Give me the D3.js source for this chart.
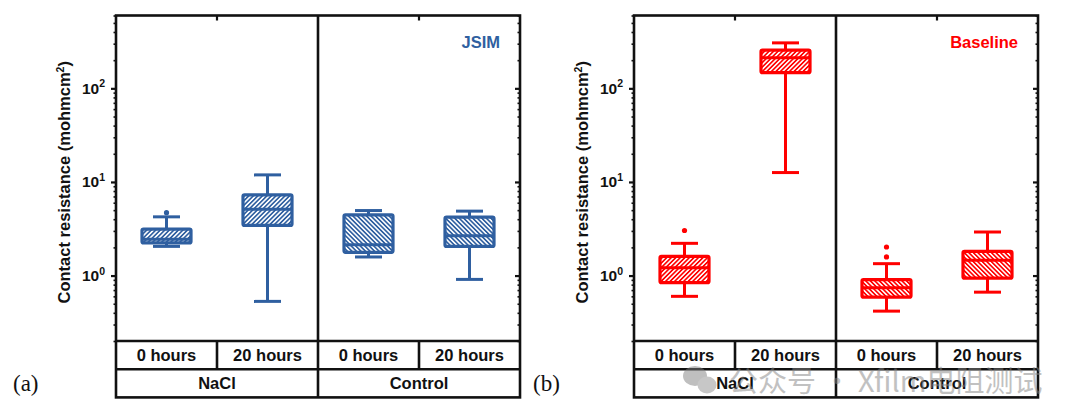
<!DOCTYPE html>
<html>
<head>
<meta charset="utf-8">
<script src="https://cdn.jsdelivr.net/npm/d3@7"></script>
<style>
  html, body { margin: 0; padding: 0; background: #fff; }
  svg { display: block; font-family: "Liberation Sans", Arial, sans-serif; }
</style>
</head>
<body>
<svg id="chart" width="1080" height="420"></svg>
<script>
// categories
const groups = ["NaCl", "Control"];
const times = ["0 hours", "20 hours"];
// box order: NaCl 0h, NaCl 20h, Control 0h, Control 20h
const yTicks = [1, 10, 100];

// (a) JSIM
const jsimMin = [2.05, 0.53, 1.58, 0.91];
const jsimQ1 = [2.23, 3.43, 1.77, 2.05];
const jsimMed = [2.45, 5.12, 2.14, 2.66];
const jsimQ3 = [3.14, 7.27, 4.46, 4.21];
const jsimMax = [4.24, 11.9, 4.95, 4.88];
const jsimOutliers = [[4.7], [], [], []];

// (b) Baseline
const baseMin = [0.60, 12.6, 0.417, 0.665];
const baseQ1 = [0.84, 147, 0.588, 0.937];
const baseMed = [1.21, 212, 0.74, 1.46];
const baseQ3 = [1.60, 256, 0.906, 1.81];
const baseMax = [2.21, 306, 1.34, 2.92];
const baseOutliers = [[3.03], [], [1.58, 2.02], []];

const TOP = 15.5;
const AXIS_Y = 341;
const ROW_H = 28.2;
const PANEL_W = 404;
const BOX_W = 49;
const CAP_W = 27;

const svg = d3.select("#chart");
const defs = svg.append("defs");

const y = d3.scaleLog().domain([0.2, 600]).range([AXIS_Y, TOP]);

const makePattern = (id, color, angle) => {
  const p = defs.append("pattern")
    .attr("id", id)
    .attr("patternUnits", "userSpaceOnUse")
    .attr("width", 3.2)
    .attr("height", 3.2)
    .attr("patternTransform", `rotate(${angle})`);
  p.append("rect").attr("width", 3.2).attr("height", 3.2).attr("fill", "#fff");
  p.append("line")
    .attr("x1", 0.8).attr("y1", 0).attr("x2", 0.8).attr("y2", 3.2)
    .attr("stroke", color).attr("stroke-width", 1.7);
};

const drawPanel = (cfg) => {
  const left = cfg.left;
  const right = left + PANEL_W;
  const g = svg.append("g");

  makePattern(cfg.id + "-fwd", cfg.color, 45);
  makePattern(cfg.id + "-back", cfg.color, -45);

  const xGroup = d3.scaleBand().domain(groups).range([left, right]);
  const xTime = d3.scaleBand().domain(times).range([0, xGroup.bandwidth()]);

  const boxes = [];
  groups.forEach((gr, gi) => {
    times.forEach((t, ti) => {
      const i = gi * 2 + ti;
      boxes.push({
        group: gr, time: t,
        cx: xGroup(gr) + xTime(t) + xTime.bandwidth() / 2,
        min: cfg.min[i], q1: cfg.q1[i], med: cfg.med[i], q3: cfg.q3[i], max: cfg.max[i],
        out: cfg.out[i],
        pat: gi === 0 ? cfg.id + "-fwd" : cfg.id + "-back"
      });
    });
  });

  // minor ticks
  const minor = [];
  [0.1, 1, 10, 100].forEach(d => {
    for (let k = 2; k <= 9; k++) {
      const v = d * k;
      if (v >= 0.2 && v <= 600) minor.push(v);
    }
  });

  const leftMinor = g.append("g").attr("transform", `translate(${left},0)`)
    .call(d3.axisLeft(y).tickValues(minor).tickSize(2.5).tickFormat(""));
  const leftMajor = g.append("g").attr("transform", `translate(${left},0)`)
    .call(d3.axisLeft(y).tickValues(yTicks).tickSize(5).tickFormat(""));
  const rightMinor = g.append("g").attr("transform", `translate(${right},0)`)
    .call(d3.axisLeft(y).tickValues(minor).tickSize(2.5).tickFormat(""));
  const rightMajor = g.append("g").attr("transform", `translate(${right},0)`)
    .call(d3.axisLeft(y).tickValues(yTicks).tickSize(5).tickFormat(""));
  const topTicks = g.append("g").attr("transform", `translate(0,${TOP})`)
    .call(d3.axisBottom(xGroup).tickSize(5).tickFormat(""));

  [leftMinor, leftMajor, rightMinor, rightMajor, topTicks].forEach(a => {
    a.select(".domain").remove();
    a.selectAll(".tick line").attr("stroke", "#111").attr("stroke-width", 1.6);
  });
  [leftMajor, rightMajor, topTicks].forEach(a => a.selectAll(".tick line").attr("stroke-width", 2.2));

  // tick labels 10^n
  g.selectAll(".ylab")
    .data(yTicks)
    .join("text")
    .attr("class", "ylab")
    .attr("x", left - 11)
    .attr("y", d => y(d) + 5.5)
    .attr("text-anchor", "end")
    .attr("font-size", 15.5)
    .attr("font-weight", "bold")
    .attr("fill", "#111")
    .each(function (d) {
      const t = d3.select(this);
      t.append("tspan").text("10");
      t.append("tspan").attr("dy", -6.5).attr("font-size", 10.5).text(Math.round(Math.log10(d)));
    });

  // axis title
  const title = g.append("text")
    .attr("transform", `translate(${left - 46},${(TOP + AXIS_Y) / 2 + 4}) rotate(-90)`)
    .attr("text-anchor", "middle")
    .attr("font-size", 16.5)
    .attr("font-weight", "bold")
    .attr("fill", "#111");
  title.append("tspan").text("Contact resistance (mohmcm");
  title.append("tspan").attr("dy", -6.5).attr("font-size", 10.5).text("2");
  title.append("tspan").attr("dy", 6.5).text(")");

  // boxes
  const bg = g.append("g");
  boxes.forEach(b => {
    bg.append("line")
      .attr("x1", b.cx).attr("x2", b.cx)
      .attr("y1", y(b.max)).attr("y2", y(b.min))
      .attr("stroke", cfg.color).attr("stroke-width", 3);
    [b.min, b.max].forEach(v => {
      bg.append("line")
        .attr("x1", b.cx - CAP_W / 2).attr("x2", b.cx + CAP_W / 2)
        .attr("y1", y(v)).attr("y2", y(v))
        .attr("stroke", cfg.color).attr("stroke-width", 3);
    });
    bg.append("rect")
      .attr("x", b.cx - BOX_W / 2)
      .attr("y", y(b.q3))
      .attr("width", BOX_W)
      .attr("height", y(b.q1) - y(b.q3))
      .attr("rx", 1.5)
      .attr("fill", `url(#${b.pat})`)
      .attr("stroke", cfg.color)
      .attr("stroke-width", 3.2);
    bg.append("line")
      .attr("x1", b.cx - BOX_W / 2).attr("x2", b.cx + BOX_W / 2)
      .attr("y1", y(b.med)).attr("y2", y(b.med))
      .attr("stroke", cfg.color).attr("stroke-width", 3);
    bg.selectAll(null)
      .data(b.out)
      .join("circle")
      .attr("cx", b.cx)
      .attr("cy", d => y(d))
      .attr("r", 2.6)
      .attr("fill", cfg.color);
  });

  // series label
  g.append("text")
    .attr("x", right - 20)
    .attr("y", 48)
    .attr("text-anchor", "end")
    .attr("font-size", 16.5)
    .attr("font-weight", "bold")
    .attr("fill", cfg.color)
    .text(cfg.tag);

  // frame and category table
  const row1 = AXIS_Y + ROW_H;
  const row2 = row1 + ROW_H;
  const frame = g.append("g")
    .attr("stroke", "#111")
    .attr("stroke-width", 2.6)
    .attr("fill", "none");
  frame.append("rect")
    .attr("x", left).attr("y", TOP)
    .attr("width", PANEL_W).attr("height", row2 - TOP);
  frame.append("line").attr("x1", left).attr("x2", right).attr("y1", AXIS_Y).attr("y2", AXIS_Y);
  frame.append("line").attr("x1", left).attr("x2", right).attr("y1", row1).attr("y2", row1);
  frame.append("line")
    .attr("x1", xGroup("Control")).attr("x2", xGroup("Control"))
    .attr("y1", TOP).attr("y2", row2);
  groups.forEach(gr => {
    const xm = xGroup(gr) + xTime("20 hours");
    frame.append("line").attr("x1", xm).attr("x2", xm).attr("y1", AXIS_Y).attr("y2", row1);
  });

  boxes.forEach(b => {
    g.append("text")
      .attr("x", b.cx)
      .attr("y", AXIS_Y + ROW_H / 2 + 6)
      .attr("text-anchor", "middle")
      .attr("font-size", 16.5)
      .attr("font-weight", "bold")
      .attr("fill", "#111")
      .text(b.time);
  });
  groups.forEach(gr => {
    g.append("text")
      .attr("x", xGroup(gr) + xGroup.bandwidth() / 2)
      .attr("y", row1 + ROW_H / 2 + 6)
      .attr("text-anchor", "middle")
      .attr("font-size", 16.5)
      .attr("font-weight", "bold")
      .attr("fill", "#111")
      .text(gr);
  });

  // panel letter
  svg.append("text")
    .attr("x", cfg.letterX)
    .attr("y", 391)
    .attr("font-family", "'Liberation Serif', 'Times New Roman', serif")
    .attr("font-size", 23)
    .attr("fill", "#111")
    .text(cfg.letter);
};

drawPanel({
  id: "a", left: 116, color: "#2f5fa0", tag: "JSIM", letter: "(a)", letterX: 13,
  min: jsimMin, q1: jsimQ1, med: jsimMed, q3: jsimQ3, max: jsimMax, out: jsimOutliers
});
drawPanel({
  id: "b", left: 634, color: "#ff0000", tag: "Baseline", letter: "(b)", letterX: 533,
  min: baseMin, q1: baseQ1, med: baseMed, q3: baseQ3, max: baseMax, out: baseOutliers
});

// watermark
const wm = svg.append("g").attr("opacity", 0.5);
wm.append("ellipse").attr("cx", 695).attr("cy", 376).attr("rx", 12).attr("ry", 10).attr("fill", "#808080");
wm.append("ellipse").attr("cx", 707).attr("cy", 385).attr("rx", 9.5).attr("ry", 8.5).attr("fill", "#909090");
wm.append("text")
  .attr("x", 729)
  .attr("y", 392)
  .attr("font-family", "'Noto Sans CJK SC', sans-serif")
  .attr("font-size", 29)
  .attr("fill", "#858585")
  .text("公众号 · Xfilm电阻测试");
</script>
</body>
</html>
